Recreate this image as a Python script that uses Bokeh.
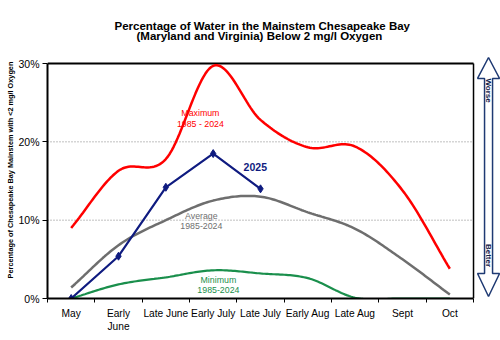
import numpy as np
from bokeh.plotting import figure
from bokeh.models import Range1d, FixedTicker, PrintfTickFormatter, Title
from bokeh.core.properties import value
from bokeh.embed import file_html
from bokeh.resources import INLINE

# ---- data (percent of mainstem volume below 2 mg/l oxygen) ----
periods = ["May", "Early\nJune", "Late June", "Early July", "Late July",
           "Early Aug", "Late Aug", "Sept", "Oct"]
maximum = [9.0, 16.3, 17.8, 29.7, 22.8, 19.3, 19.4, 13.8, 3.8]
average = [1.4, 6.8, 10.0, 12.5, 13.0, 11.0, 8.9, 5.0, 0.5]
minimum = [0.0, 1.8, 2.7, 3.6, 3.2, 2.6, 0.1, 0.0, 0.0]
year2025 = [0.0, 5.4, 14.2, 18.5, 14.0]
y_ticks = [0, 10, 20, 30]
title_lines = ["Percentage of Water in the Mainstem Chesapeake Bay",
               "(Maryland and Virginia) Below 2 mg/l Oxygen"]

FONT = "Liberation Sans"
RED, GRAY, GREEN, NAVY = "#ff0000", "#6e6e6e", "#1a8f4c", "#0f1b80"


def smooth(ys, n=24):
    """Excel-like smoothed line through the points (cubic Hermite / Catmull-Rom)."""
    y = np.asarray(ys, float)
    k = len(y)
    m = np.empty(k)
    m[1:-1] = (y[2:] - y[:-2]) / 2.0
    m[0] = y[1] - y[0]
    m[-1] = y[-1] - y[-2]
    xo, yo = [], []
    for i in range(k - 1):
        t = np.linspace(0, 1, n, endpoint=(i == k - 2))
        h00 = 2 * t**3 - 3 * t**2 + 1
        h10 = t**3 - 2 * t**2 + t
        h01 = -2 * t**3 + 3 * t**2
        h11 = t**3 - t**2
        yo.extend(h00 * y[i] + h10 * m[i] + h01 * y[i + 1] + h11 * m[i + 1])
        xo.extend(i + 0.5 + t)
    return xo, yo


n_cat = len(periods)
centers = [i + 0.5 for i in range(n_cat)]

p = figure(width=500, height=340, output_backend="svg", toolbar_location=None,
           x_range=Range1d(0, 9.57), y_range=Range1d(0, 32.81),
           min_border_left=47, min_border_right=0, min_border_top=41,
           min_border_bottom=42)
p.outline_line_color = None
p.grid.visible = False
p.background_fill_color = "white"
p.border_fill_color = "white"

# two-line title (first added sits closest to the plot)
title_kw = dict(align="left", text_font=FONT, text_font_size="11.5px",
                text_font_style="bold", text_color="black")
p.add_layout(Title(text=title_lines[1], standoff=0, offset=89, **title_kw), "above")
p.add_layout(Title(text=title_lines[0], standoff=-9, offset=67, **title_kw), "above")

# x axis
xa = p.xaxis[0]
xa.ticker = FixedTicker(ticks=centers, minor_ticks=list(range(n_cat + 1)))
xa.major_label_overrides = {c: lab for c, lab in zip(centers, periods)}
xa.bounds = (0, n_cat)
xa.axis_line_width = 2
xa.axis_line_color = "black"
xa.major_tick_in = 0
xa.major_tick_out = 0
xa.minor_tick_in = 0
xa.minor_tick_out = 4
xa.minor_tick_line_color = "black"
xa.major_label_text_font = FONT
xa.major_label_text_font_size = "10.2px"
xa.major_label_text_color = "black"
xa.major_label_standoff = 5

# y axis
ya = p.yaxis[0]
ya.ticker = FixedTicker(ticks=y_ticks)
ya.formatter = PrintfTickFormatter(format="%d%%")
ya.bounds = (0, 30)
ya.axis_line_width = 2
ya.axis_line_color = "black"
ya.major_tick_in = 0
ya.major_tick_out = 5
ya.major_tick_line_color = "black"
ya.minor_tick_line_color = None
ya.major_label_text_font = FONT
ya.major_label_text_font_size = "10.5px"
ya.major_label_text_color = "black"
ya.major_label_standoff = 3
ya.axis_label = "Percentage of Chesapeake Bay Mainstem with <2 mg/l Oxygen"
ya.axis_label_text_font = FONT
ya.axis_label_text_font_size = "7.3px"
ya.axis_label_text_font_style = "bold"
ya.axis_label_text_color = "black"
ya.axis_label_standoff = 0

# gridlines and box
p.segment(x0=[0, 0], y0=[10, 20], x1=[n_cat, n_cat], y1=[10, 20],
          line_color="#808080", line_width=1, line_dash="1 2")
p.segment(x0=[0], y0=[30], x1=[n_cat], y1=[30], line_color="black", line_width=2)
p.segment(x0=[n_cat], y0=[0], x1=[n_cat], y1=[30], line_color="black", line_width=1.5)

# series
for data, col, w in [(maximum, RED, 2.5), (average, GRAY, 2.5), (minimum, GREEN, 2.2)]:
    sx, sy = smooth(data)
    p.line(sx, sy, line_color=col, line_width=w)

x25 = centers[:len(year2025)]
p.line(x25, year2025, line_color=NAVY, line_width=2.2)
p.scatter(x25, year2025, marker="diamond", size=8, fill_color=NAVY, line_color=NAVY)

# series labels
lab_kw = dict(text_align="center", text_baseline="middle", text_font=value(FONT),
              text_line_height=1.05)
p.text(x=[3.23], y=[23.0], text=["Maximum\n1985 - 2024"], text_color=RED,
       text_font_size="8.8px", **lab_kw)
p.text(x=[4.39], y=[16.85], text=["2025"], text_color=NAVY, text_font_size="10.5px",
       text_font_style="bold", **lab_kw)
p.text(x=[3.25], y=[9.9], text=["Average\n1985-2024"], text_color="#707070",
       text_font_size="8.8px", **lab_kw)
p.text(x=[3.61], y=[1.72], text=["Minimum\n1985-2024"], text_color=GREEN,
       text_font_size="8.8px", **lab_kw)

# worse / better double arrow on the right
ax = [9.317, 9.55, 9.402, 9.402, 9.55, 9.317, 9.085, 9.233, 9.233, 9.085]
ay = [30.77, 28.09, 28.09, 3.19, 3.19, 0.26, 3.19, 3.19, 28.09, 28.09]
p.patch(ax, ay, fill_color="white", line_color="#1f3a73", line_width=1.5)
p.text(x=[9.317, 9.317], y=[26.55, 5.49], text=["Worse", "Better"], angle=-np.pi / 2,
       text_align="center", text_baseline="middle", text_font=value(FONT),
       text_font_size="8px", text_font_style="bold", text_color="#10204a")

open("out.html", "w").write(file_html(p, INLINE))
